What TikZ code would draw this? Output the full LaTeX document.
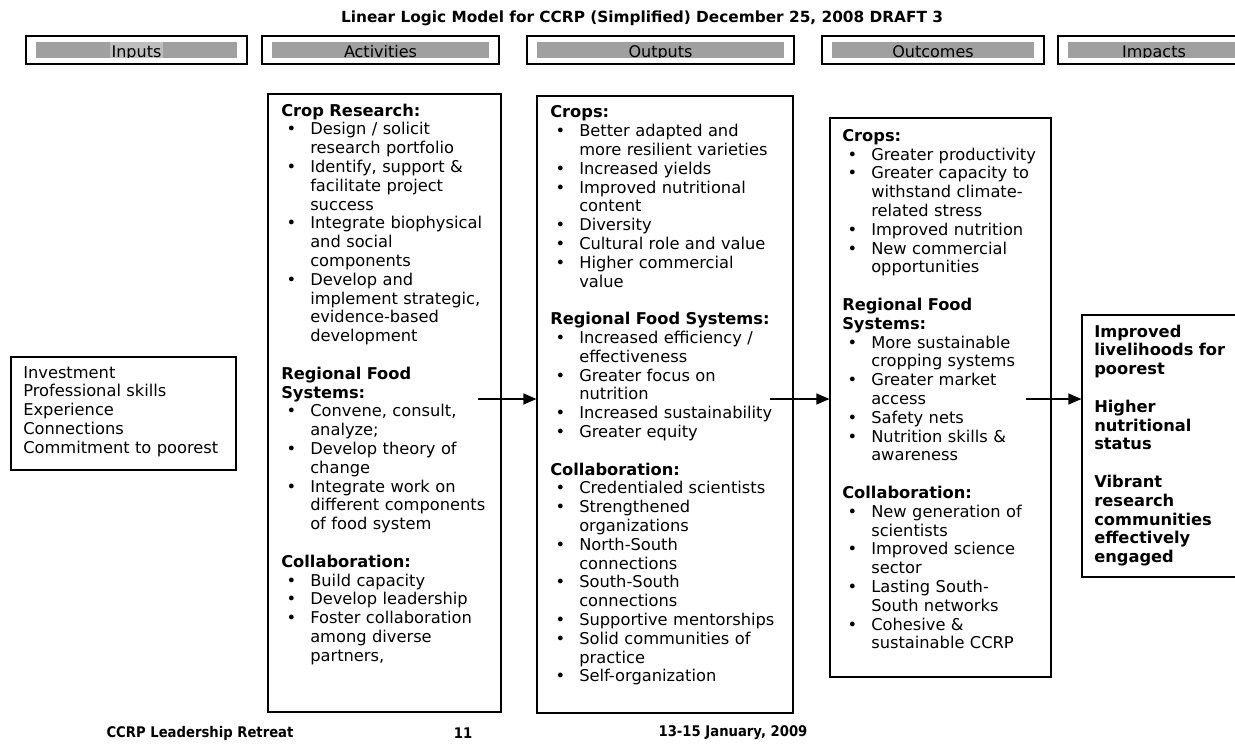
\documentclass[tikz,border=0pt]{standalone}
\usepackage{fontspec}
\setmainfont{DejaVu Sans}
\newfontfamily\footfont[FakeStretch=0.9]{DejaVu Sans}
\usetikzlibrary{arrows.meta,fit}

\definecolor{bargray}{HTML}{A0A0A0}
\definecolor{barlight}{HTML}{BEBEBE}

% list helpers for the column texts
\newcommand{\hd}[1]{\textbf{#1}\par}
\newcommand{\itm}[1]{\hangindent=21.75pt\hangafter=1\noindent\makebox[21.75pt][l]{\hspace{4pt}\textbullet}#1\par}
\newcommand{\gap}{\vskip14.1pt}
\newcommand{\nl}{\newline}

\tikzset{
  hdbox/.style={draw,line width=0.9pt,inner sep=0pt},
  hdlabel/.style={anchor=base,inner sep=0pt,font=\fontsize{12}{14}\selectfont},
  colbox/.style={draw,line width=0.9pt,inner sep=0pt},
  coltext/.style={anchor=north west,inner sep=0pt,align=left,text width=260pt,
    font=\fontsize{12.2}{14.1}\selectfont},
  foot/.style={inner sep=0pt,font=\footfont\bfseries\fontsize{11}{12}\selectfont}
}

\begin{document}
\begin{tikzpicture}[x=0.75pt,y=-0.75pt]
  \clip (0,0) rectangle (1235,744);

  \node (title) at (642,18) [inner sep=0pt,font=\bfseries\fontsize{11.5}{13}\selectfont]
    {Linear Logic Model for CCRP (Simplified) December 25, 2008 DRAFT 3};

  % header row
  \foreach \name/\xa/\xb in {Inputs/26/247,Activities/262/499,Outputs/527/794,Outcomes/822/1044,Impacts/1058/1250} {
    \node (hd\name) [hdbox,fit={(\xa,36) (\xb,64)}] {};
    \fill[bargray] (\xa+10,42) rectangle (\xb-10,57.5);
  }
  \fill[barlight] (110,42) rectangle (163,57.5);
  \begin{scope}
    \clip (0,42) rectangle (1235,57.5);
    \foreach \name in {Inputs,Activities,Outputs,Outcomes,Impacts}
      \node (lbl\name) at (hd\name.center |- 0,57.5) [hdlabel] {\name};
  \end{scope}

  % columns
  \node (inputs) [colbox,fit={(11,357) (236,470)}] {};
  \node (activities) [colbox,fit={(268,94) (501,712)}] {};
  \node (outputs) [colbox,fit={(537,96) (793,713)}] {};
  \node (outcomes) [colbox,fit={(830,118) (1051,677)}] {};
  \node (impacts) [colbox,fit={(1082,315) (1250,577)}] {};

  \node (inputstext) at (23,366) [coltext] {Investment\\Professional skills\\Experience\\Connections\\Commitment to poorest};

  \node (activitiestext) at (281,103.5) [coltext] {%
    \hd{Crop Research:}
    \itm{Design / solicit\nl research portfolio}
    \itm{Identify, support \&\nl facilitate project\nl success}
    \itm{Integrate biophysical\nl and social\nl components}
    \itm{Develop and\nl implement strategic,\nl evidence-based\nl development}
    \gap
    \hd{Regional Food\nl Systems:}
    \itm{Convene, consult,\nl analyze;}
    \itm{Develop theory of\nl change}
    \itm{Integrate work on\nl different components\nl of food system}
    \gap
    \hd{Collaboration:}
    \itm{Build capacity}
    \itm{Develop leadership}
    \itm{Foster collaboration\nl among diverse\nl partners,}};

  \node (outputstext) at (550,105.5) [coltext] {%
    \hd{Crops:}
    \itm{Better adapted and\nl more resilient varieties}
    \itm{Increased yields}
    \itm{Improved nutritional\nl content}
    \itm{Diversity}
    \itm{Cultural role and value}
    \itm{Higher commercial\nl value}
    \gap
    \hd{Regional Food Systems:}
    \itm{Increased efficiency /\nl effectiveness}
    \itm{Greater focus on\nl nutrition}
    \itm{Increased sustainability}
    \itm{Greater equity}
    \gap
    \hd{Collaboration:}
    \itm{Credentialed scientists}
    \itm{Strengthened\nl organizations}
    \itm{North-South\nl connections}
    \itm{South-South\nl connections}
    \itm{Supportive mentorships}
    \itm{Solid communities of\nl practice}
    \itm{Self-organization}};

  \node (outcomestext) at (842,129) [coltext] {%
    \hd{Crops:}
    \itm{Greater productivity}
    \itm{Greater capacity to\nl withstand climate-\nl related stress}
    \itm{Improved nutrition}
    \itm{New commercial\nl opportunities}
    \gap
    \hd{Regional Food\nl Systems:}
    \itm{More sustainable\nl cropping systems}
    \itm{Greater market\nl access}
    \itm{Safety nets}
    \itm{Nutrition skills \&\nl awareness}
    \gap
    \hd{Collaboration:}
    \itm{New generation of\nl scientists}
    \itm{Improved science\nl sector}
    \itm{Lasting South-\nl South networks}
    \itm{Cohesive \&\nl sustainable CCRP}};

  \node (impactstext) at (1094,324.5) [coltext,font=\bfseries\fontsize{12.2}{14.1}\selectfont]
    {Improved\\livelihoods for\\poorest\\[14.1pt]Higher\\nutritional\\status\\[14.1pt]Vibrant\\research\\communities\\effectively\\engaged};

  % arrows between columns
  \coordinate (a1) at (478,399);
  \coordinate (a2) at (770,399);
  \coordinate (a3) at (1026,399);
  \begin{scope}[>={Triangle[length=9.75pt,width=8.25pt]},line width=0.9pt]
    \draw[->] (a1) -- (a1 -| outputs.west);
    \draw[->] (a2) -- (a2 -| outcomes.west);
    \draw[->] (a3) -- (a3 -| impacts.west);
  \end{scope}

  % footer
  \node (retreat) at (200,733) [foot] {CCRP Leadership Retreat};
  \node (page) at (463,733) [foot] {11};
  \node (dates) at (733,733) [foot] {13-15 January, 2009};
\end{tikzpicture}
\end{document}
